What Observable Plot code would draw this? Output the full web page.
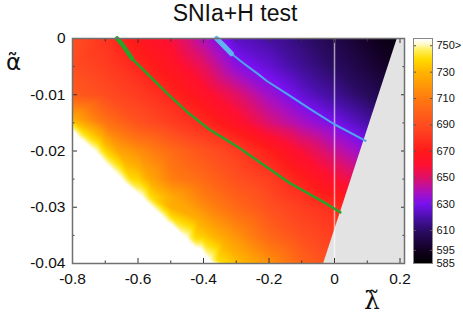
<!DOCTYPE html>
<html>
<head>
<meta charset="utf-8">
<script src="https://cdn.jsdelivr.net/npm/d3@7"></script>
<script src="https://cdn.jsdelivr.net/npm/@observablehq/plot@0.6"></script>
<style>
  html, body { margin: 0; padding: 0; background: #fff; }
  #wrap { position: relative; width: 463px; height: 320px; overflow: hidden; background: #fff;
          font-family: "Liberation Sans", Arial, sans-serif; color: #111; }
  #wrap svg { position: absolute; left: 0; top: 0; }
  .lbl { position: absolute; white-space: nowrap; line-height: 1; z-index: 5; }
</style>
</head>
<body>
<div id="wrap"></div>
<script>
// ---------------- data ----------------
const lambdas = [-0.8, -0.7, -0.6, -0.5, -0.4, -0.3, -0.2, -0.1, 0, 0.1, 0.2];
const alphas  = [0, -0.005, -0.01, -0.015, -0.02, -0.025, -0.03, -0.035, -0.04];
// values on the (alpha row, lambda column) grid
const valueRows = [
  [692, 680, 668, 658, 640, 624, 619, 612, 604, 596, 588],   // α = 0
  [690, 684, 675, 666, 652, 634, 626, 617, 609, 601, 593],   // α = -0.005
  [697, 690, 683, 674.5, 664, 651, 637, 626, 617, 608, 599], // α = -0.01
  [740, 708, 693, 684, 676, 664, 649, 639, 630, 620, 611],   // α = -0.015
  [780, 739, 717, 704, 693, 684, 672, 658, 645, 634, 624],   // α = -0.02
  [795, 775, 738, 712, 703, 692, 684, 672, 660, 648, 636],   // α = -0.025
  [810, 800, 775, 728, 716, 703, 692, 684, 677, 668, 658],   // α = -0.03
  [820, 812, 800, 775, 735, 718, 702, 691, 684, 676, 668],   // α = -0.035
  [830, 822, 812, 798, 764, 733, 718, 701, 690, 682, 674]    // α = -0.04
];
// extra samples along the edge of the white (>750) region, just outside it, and in the yellow band inside it
const edgeLambda = [-0.800, -0.730, -0.653, -0.589, -0.525, -0.455, -0.385, -0.370];
const edgeAlpha  = [-0.0165, -0.0202, -0.0249, -0.0282, -0.0318, -0.0355, -0.0394, -0.0400];
const edgeValue  = [755, 755, 755, 755, 755, 755, 755, 755];
const whiteLambda = [-0.800, -0.730, -0.653, -0.589, -0.525, -0.455, -0.415, -0.400];
const whiteAlpha  = [-0.0185, -0.0222, -0.0269, -0.0302, -0.0338, -0.0375, -0.0394, -0.0400];
const whiteValue  = [770, 770, 770, 770, 770, 770, 770, 770];
const yellowLambda = [-0.770, -0.700, -0.623, -0.559, -0.495, -0.425, -0.355, -0.340];
const yellowAlpha  = [-0.0165, -0.0202, -0.0249, -0.0282, -0.0318, -0.0355, -0.0394, -0.0400];
const yellowValue  = [740, 740, 740, 740, 740, 740, 740, 740];
const orangeLambda = [-0.800, -0.654, -0.561, -0.488, -0.412, -0.333, -0.257, -0.242];
const orangeAlpha  = [-0.0139, -0.0202, -0.0249, -0.0282, -0.0318, -0.0355, -0.0394, -0.0400];
const orangeValue  = [725, 725, 725, 725, 725, 725, 725, 725];
// green contour
const greenLambda = [-0.664, -0.650, -0.618, -0.562, -0.510, -0.449, -0.379, -0.328, -0.287, -0.236, -0.134, -0.033, 0.018];
const greenAlpha  = [0, -0.0009, -0.0036, -0.0068, -0.0098, -0.0131, -0.0163, -0.0181, -0.0196, -0.0217, -0.0258, -0.0291, -0.0309];
// blue contour
const blueLambda = [-0.360, -0.336, -0.3145, -0.278, -0.236, -0.2055, -0.144, -0.073, -0.002, 0.095];
const blueAlpha  = [0, -0.0014, -0.0027, -0.0044, -0.0062, -0.0076, -0.0099, -0.0126, -0.0152, -0.0182];
// edge of the excluded (grey) region
const greyEdgeLambda = [0.192, -0.033];
const greyEdgeAlpha  = [0, -0.04];
// ticks
const xMajor = [-0.8, -0.6, -0.4, -0.2, 0, 0.2];
const xMinor = [-0.7, -0.5, -0.3, -0.1, 0.1];
const yMajor = [0, -0.01, -0.02, -0.03, -0.04];
const yMinor = [-0.005, -0.015, -0.025, -0.035];
const barTicks = [585, 595, 610, 630, 650, 670, 690, 710, 730, 750];
// palette
const colorStops  = [585, 595, 610, 620, 630, 640, 650, 660, 670, 680, 690, 700, 710, 720, 730, 740, 747, 752, 755];
const colorValues = ["#000000", "#120022", "#2c0c66", "#4a10aa", "#7810f0", "#b010b8", "#e0106a", "#ff1030",
                     "#ff1a1a", "#ff3420", "#ff4c20", "#ff6218", "#ff7a10", "#ff9808", "#ffb400", "#ffdc00",
                     "#fff060", "#fffbd8", "#ffffff"];

// ---------------- tables built from the arrays ----------------
const samples = [];
alphas.forEach((a, i) => lambdas.forEach((l, j) => samples.push({l, a, v: valueRows[i][j]})));
edgeLambda.forEach((l, i) => samples.push({l, a: edgeAlpha[i], v: edgeValue[i]}));
whiteLambda.forEach((l, i) => samples.push({l, a: whiteAlpha[i], v: whiteValue[i]}));
yellowLambda.forEach((l, i) => samples.push({l, a: yellowAlpha[i], v: yellowValue[i]}));
orangeLambda.forEach((l, i) => samples.push({l, a: orangeAlpha[i], v: orangeValue[i]}));
const green = greenLambda.map((l, i) => ({l, a: greenAlpha[i]}));
const blue = blueLambda.map((l, i) => ({l, a: blueAlpha[i]}));
const greyEdge = greyEdgeLambda.map((l, i) => ({l, a: greyEdgeAlpha[i]}));

const colorOpts = {type: "linear", domain: colorStops, range: colorValues, clamp: true, interpolate: "rgb"};
const fmt = d => String(d);
const blank = () => "";

const main = Plot.plot({
  width: 463, height: 320,
  marginLeft: 72, marginRight: 59, marginTop: 38, marginBottom: 57,
  x: {domain: [-0.8, 0.2137]},
  y: {domain: [-0.04, 0]},
  color: colorOpts,
  style: {background: "transparent", fontFamily: "Liberation Sans, Arial, sans-serif", fontSize: "15.5px", color: "#111"},
  marks: [
    Plot.raster(samples, {x: "l", y: "a", fill: "v", interpolate: "barycentric",
                          x1: -0.8, x2: 0.2137, y1: -0.04, y2: 0}),
    Plot.areaX(greyEdge, {x1: "l", x2: 0.3, y: "a", fill: "#e3e3e3", clip: true}),
    Plot.ruleX([0], {stroke: "white", strokeOpacity: 0.6, strokeWidth: 1.5}),
    Plot.line(blue, {x: "l", y: "a", stroke: "#4ea4ee", strokeWidth: 2}),
    Plot.line(blue.slice(0, 3), {x: "l", y: "a", stroke: "#62b2f2", strokeWidth: 5}),
    Plot.line(green, {x: "l", y: "a", stroke: "#2ba02b", strokeWidth: 2.5}),
    Plot.line(green.slice(0, 3), {x: "l", y: "a", stroke: "#2ba02b", strokeWidth: 4.5}),
    Plot.axisX({anchor: "bottom", ticks: xMajor, tickSize: -5, tickPadding: 14, tickFormat: fmt, label: null, stroke: "#333"}),
    Plot.axisX({anchor: "bottom", ticks: xMinor, tickSize: -2.5, tickFormat: blank, label: null, stroke: "#333"}),
    Plot.axisX({anchor: "top", ticks: xMajor, tickSize: -4, tickFormat: blank, label: null, stroke: "#333"}),
    Plot.axisX({anchor: "top", ticks: xMinor, tickSize: -2.5, tickFormat: blank, label: null, stroke: "#333"}),
    Plot.axisY({anchor: "left", ticks: yMajor, tickSize: -5, tickPadding: 12, tickFormat: fmt, label: null, stroke: "#333"}),
    Plot.axisY({anchor: "left", ticks: yMinor, tickSize: -2.5, tickFormat: blank, label: null, stroke: "#333"}),
    Plot.axisY({anchor: "right", ticks: yMajor, tickSize: -4, tickFormat: blank, label: null, stroke: "#333"}),
    Plot.axisY({anchor: "right", ticks: yMinor, tickSize: -2.5, tickFormat: blank, label: null, stroke: "#333"}),
    Plot.frame({stroke: "#707070", strokeWidth: 1.5})
  ]
});

const bar = Plot.plot({
  width: 463, height: 320,
  marginLeft: 413, marginRight: 31, marginTop: 38, marginBottom: 57,
  x: {domain: [0, 1], axis: null},
  y: {domain: [585, 755.5]},
  color: colorOpts,
  style: {background: "transparent", fontFamily: "Liberation Sans, Arial, sans-serif", fontSize: "11px", color: "#111"},
  marks: [
    Plot.raster({x1: 0, x2: 1, y1: 585, y2: 755.5, fill: (x, y) => y}),
    Plot.axisY({anchor: "right", ticks: barTicks, tickSize: -3, tickPadding: 7,
                tickFormat: d => d === 750 ? "750>" : String(d), label: null, stroke: "#555"}),
    Plot.axisY({anchor: "left", ticks: barTicks, tickSize: -3, tickFormat: blank, label: null, stroke: "#555"}),
    Plot.frame({stroke: "#888", strokeWidth: 1})
  ]
});

const wrap = document.getElementById("wrap");
wrap.appendChild(main);
wrap.appendChild(bar);

function addLabel(text, css) {
  const d = document.createElement("div");
  d.className = "lbl";
  d.textContent = text;
  d.setAttribute("style", css);
  wrap.appendChild(d);
}
addLabel("SNIa+H test", "left:0;width:470px;text-align:center;top:2px;font-size:23px;");
// axis titles: alpha and lambda, each with a tilde accent (one text each)
addLabel("\u03B1\u0303", "left:6px;top:51px;font-size:23px;font-family:'DejaVu Sans',sans-serif;");
addLabel("\u03BB\u0303", "left:364px;top:288px;font-size:25px;font-family:'DejaVu Serif',serif;");
</script>
</body>
</html>
